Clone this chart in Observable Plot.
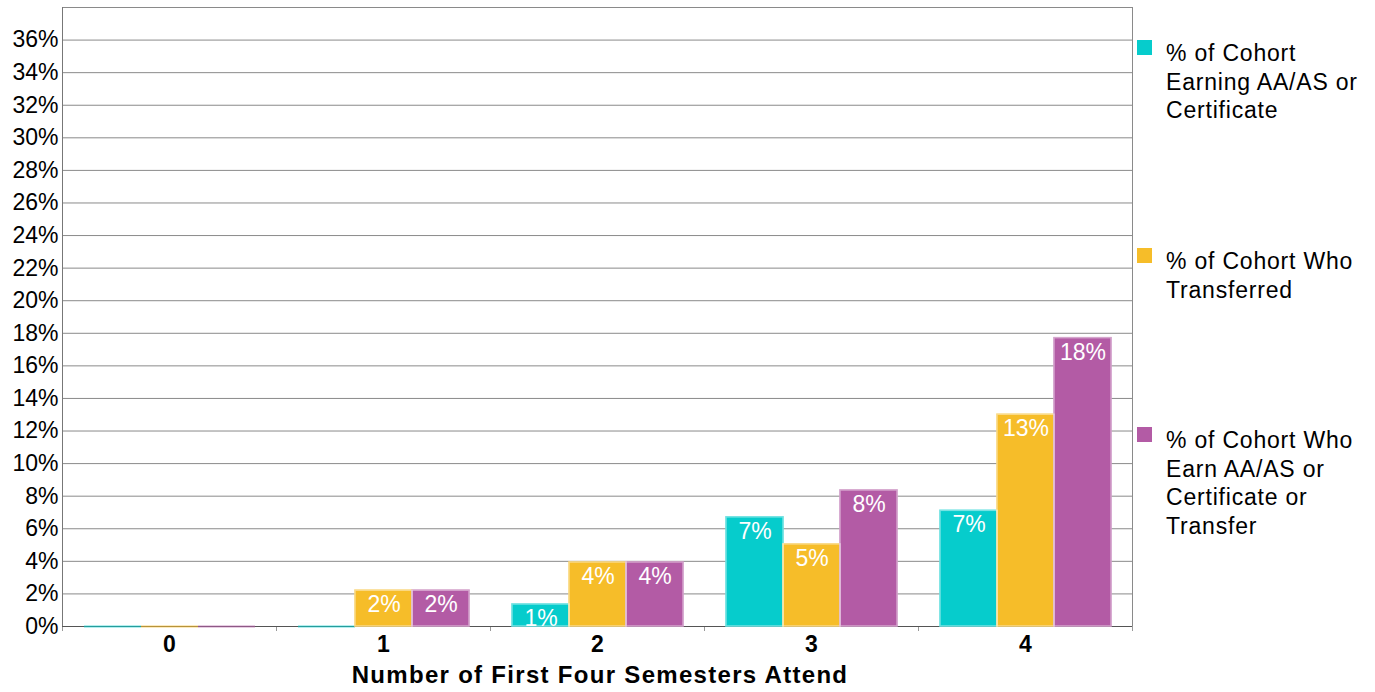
<!DOCTYPE html>
<html><head><meta charset="utf-8">
<script src="https://cdn.jsdelivr.net/npm/d3@7"></script>
<script src="https://cdn.jsdelivr.net/npm/@observablehq/plot@0.6"></script>
<style>
body{margin:0;background:#fff;font-family:"Liberation Sans",Arial,sans-serif;}
#wrap{position:relative;width:1375px;height:692px;overflow:hidden;}
#legend{position:absolute;left:1137px;top:0;width:238px;}
.item{position:absolute;left:0;width:238px;}
.sw{position:absolute;left:0;top:1px;width:15px;height:15px;}
.lab{position:absolute;left:29px;top:0;font-size:23px;line-height:28.7px;color:#000;letter-spacing:0.8px;white-space:nowrap;}
#xtitle{position:absolute;left:0;top:661px;width:1200px;text-align:center;font-weight:bold;font-size:24px;letter-spacing:1.3px;color:#000;}
</style></head><body><div id="wrap"></div>
<script>
const categories = ["0", "1", "2", "3", "4"];
const seriesNames = [
  "% of Cohort Earning AA/AS or Certificate",
  "% of Cohort Who Transferred",
  "% of Cohort Who Earn AA/AS or Certificate or Transfer"
];
const legendLines = [
  ["% of Cohort", "Earning AA/AS or", "Certificate"],
  ["% of Cohort Who", "Transferred"],
  ["% of Cohort Who", "Earn AA/AS or", "Certificate or", "Transfer"]
];
const seriesColors = ["#06CCCC", "#F6BD29", "#B35BA5"];
const earning     = [0, 0,   1.35, 6.7,  7.1];
const transferred = [0, 2.2, 3.93, 5.04, 13.0];
const either      = [0, 2.2, 3.93, 8.35, 17.7];
const yTicks = [0, 2, 4, 6, 8, 10, 12, 14, 16, 18, 20, 22, 24, 26, 28, 30, 32, 34, 36];
const xTitle = "Number of First Four Semesters Attend";

const seriesValues = [earning, transferred, either];
const data = categories.flatMap((c, i) =>
  seriesValues.map((arr, j) => ({cat: c, series: seriesNames[j], value: arr[i]}))
);

const font = "Liberation Sans, Arial, sans-serif";
const H = 692, MT = 7, MB = 66;
const plot = Plot.plot({
  width: 1375,
  height: H,
  marginLeft: 61,
  marginRight: 243,
  marginTop: MT,
  marginBottom: MB,
  style: {fontFamily: font, background: "white", color: "#000"},
  fx: {domain: categories, padding: 0},
  x: {domain: seriesNames, paddingInner: 0, paddingOuter: 0.377, axis: null},
  y: {domain: [0, 38], axis: null},
  color: {domain: seriesNames, range: seriesColors},
  marks: [
    Plot.ruleY(yTicks, {stroke: "#8a8a8a", strokeOpacity: 1}),
    Plot.frame({anchor: "top", stroke: "#8a8a8a", strokeOpacity: 1}),
    Plot.frame({anchor: "left", facetAnchor: "left", stroke: "#777", strokeOpacity: 1}),
    Plot.frame({anchor: "right", facetAnchor: "right", stroke: "#8a8a8a", strokeOpacity: 1}),
    Plot.frame({anchor: "left", insetTop: H - MT - MB, insetBottom: -4, stroke: "#999", strokeOpacity: 1}),
    Plot.frame({anchor: "right", facetAnchor: "right", insetTop: H - MT - MB, insetBottom: -4, stroke: "#999", strokeOpacity: 1}),
    Plot.ruleY([0], {stroke: "#555", strokeOpacity: 1}),
    Plot.axisY({ticks: yTicks, tickFormat: d => d + "%", tickSize: 0, tickPadding: 4,
                fontSize: 23, label: null, fill: "#000", letterSpacing: "1px"}),
    Plot.axisFx({anchor: "bottom", tickSize: 0, tickPadding: 9, fontSize: 23, fontWeight: "bold", label: null, fill: "#000"}),
    Plot.tickY(data.filter(d => d.value === 0), {fx: "cat", x: "series", y: "value", stroke: "series", strokeOpacity: 0.6, strokeWidth: 2}),
    Plot.barY(data, {fx: "cat", x: "series", y: "value", fill: "series", stroke: "series", strokeWidth: 1.5}),
    Plot.barY(data, {fx: "cat", x: "series", y: "value", fill: "none", stroke: "white", strokeOpacity: 0.45, strokeWidth: 1.5}),
    Plot.text(data.filter(d => d.value > 0), {
      fx: "cat", x: "series", y: "value",
      text: d => Math.round(d.value) + "%",
      fill: "white", fontSize: 23, dy: 14, clip: true, letterSpacing: "0.5px"
    })
  ]
});

const wrap = document.getElementById("wrap");
wrap.appendChild(plot);

const legend = document.createElement("div");
legend.id = "legend";
const itemTops = [39, 247, 426];
seriesNames.forEach((s, i) => {
  const it = document.createElement("div");
  it.className = "item";
  it.style.top = itemTops[i] + "px";
  const sw = document.createElement("div");
  sw.className = "sw";
  sw.style.background = seriesColors[i];
  const lab = document.createElement("div");
  lab.className = "lab";
  lab.innerHTML = legendLines[i].join("<br>");
  it.appendChild(sw);
  it.appendChild(lab);
  legend.appendChild(it);
});
wrap.appendChild(legend);

const t = document.createElement("div");
t.id = "xtitle";
t.textContent = xTitle;
wrap.appendChild(t);
</script>
</body></html>
